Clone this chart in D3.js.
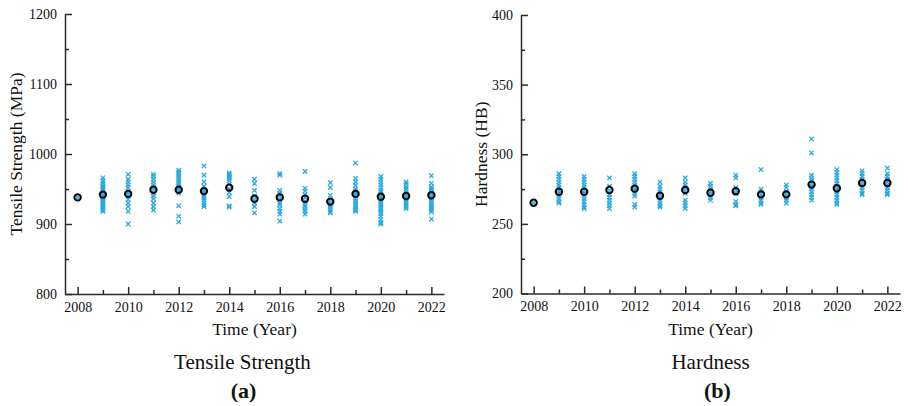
<!DOCTYPE html>
<html>
<head>
<meta charset="utf-8">
<script src="https://cdn.jsdelivr.net/npm/d3@7"></script>
<style>
    body { margin: 0; background: #fff; }
    svg text { font-family: "Liberation Serif", "Times New Roman", serif; fill: #111; }
</style>
</head>
<body>
<svg id="chart" width="908" height="406"></svg>
<script>
// Tensile strength and hardness per year: individual samples (x) and yearly mean (o)

const years = [2008, 2009, 2010, 2011, 2012, 2013, 2014, 2015, 2016, 2017, 2018, 2019, 2020, 2021, 2022];
const yearTicks = [2008, 2010, 2012, 2014, 2016, 2018, 2020, 2022];
const yearMinorTicks = [2009, 2011, 2013, 2015, 2017, 2019, 2021];

const tensileTicks = [800, 900, 1000, 1100, 1200];
const hardnessTicks = [200, 250, 300, 350, 400];

const tensileMeans = [938, 942, 943, 949, 949, 947, 952, 936, 938, 936, 932, 943, 939, 940, 941];
const tensileSamples = [
    [938],
    [966, 962, 959, 956, 953, 950, 948, 946, 944, 942, 940, 938, 936, 934, 932, 930, 928, 926, 923, 920, 918],
    [971, 964, 960, 956, 952, 947, 944, 940, 935, 930, 925, 918, 900],
    [971, 968, 964, 960, 956, 952, 948, 944, 940, 936, 930, 925, 920],
    [977, 974, 971, 968, 965, 962, 959, 956, 953, 950, 947, 944, 926, 911, 903],
    [983, 970, 960, 954, 949, 946, 943, 940, 937, 934, 930, 927, 925],
    [973, 971, 969, 967, 965, 962, 957, 950, 945, 939, 926, 924],
    [964, 958, 948, 940, 935, 930, 925, 916],
    [972, 970, 948, 944, 940, 935, 930, 927, 922, 918, 914, 904],
    [975, 951, 947, 942, 938, 933, 928, 925, 921, 918, 914],
    [959, 952, 941, 934, 930, 927, 924, 921, 918, 916],
    [987, 965, 960, 955, 950, 947, 944, 941, 938, 935, 932, 929, 926, 923, 920, 918],
    [968, 964, 960, 956, 952, 948, 945, 942, 939, 936, 933, 930, 927, 924, 921, 918, 915, 911, 906, 902, 900],
    [960, 957, 953, 950, 946, 943, 940, 937, 934, 931, 928, 925, 922],
    [969, 958, 953, 950, 947, 944, 941, 938, 935, 932, 929, 926, 923, 920, 917, 907]
];

const hardnessMeans = [265.2, 273.1, 273.1, 274.3, 275.3, 270.2, 274.3, 272.4, 273.4, 271.2, 271.2, 278.2, 275.6, 279.4, 279.4];
const hardnessSamples = [
    [265],
    [286, 284, 282, 280, 278, 276, 274, 272, 270, 268, 266, 265],
    [284, 282, 280, 278, 276, 274, 272, 270, 268, 266, 264, 262, 261],
    [283, 277, 274, 271, 269, 267, 265, 263, 261],
    [286, 284, 282, 280, 278, 276, 274, 272, 270, 264, 262],
    [280, 277, 275, 273, 271, 269, 267, 265, 263, 262],
    [283, 280, 278, 276, 274, 272, 267, 265, 263, 261],
    [279, 277, 275, 273, 271, 269, 267],
    [285, 283, 276, 274, 272, 266, 264, 263],
    [289, 275, 273, 271, 269, 267, 265, 264],
    [278, 276, 273, 271, 269, 267, 265],
    [311, 301, 285, 283, 281, 279, 277, 275, 273, 271, 269, 267],
    [289, 287, 285, 283, 281, 279, 277, 275, 273, 271, 269, 267, 265, 264],
    [288, 286, 284, 282, 280, 278, 276, 274, 272, 271],
    [290, 286, 284, 282, 280, 278, 276, 274, 272, 271]
];

const sampleColor = '#27a9e1';
const axisColor = '#2a2a2a';

const svg = d3.select('#chart');

function drawPanel(opt) {
    const x = d3.scaleLinear().domain([2007.5, 2022.5]).range([opt.left, opt.right]);
    const y = d3.scaleLinear().domain(d3.extent(opt.yTicks)).range([opt.bottom, opt.top]);
    const g = svg.append('g');

    const yMinor = d3.pairs(opt.yTicks).map(([a, b]) => (a + b) / 2);

    // minor ticks first, major axis on top
    g.append('g')
        .attr('transform', `translate(${opt.left},0)`)
        .call(d3.axisLeft(y).tickValues(yMinor).tickFormat('').tickSize(-4))
        .call(s => s.select('.domain').remove());

    g.append('g')
        .attr('transform', `translate(0,${opt.bottom})`)
        .call(d3.axisBottom(x).tickValues(yearMinorTicks).tickFormat('').tickSize(-4))
        .call(s => s.select('.domain').remove());

    g.append('g')
        .attr('transform', `translate(${opt.left},0)`)
        .call(d3.axisLeft(y).tickValues(opt.yTicks).tickFormat(d3.format('d')).tickSize(-7).tickSizeOuter(0).tickPadding(8));

    g.append('g')
        .attr('transform', `translate(0,${opt.bottom})`)
        .call(d3.axisBottom(x).tickValues(yearTicks).tickFormat(d3.format('d')).tickSize(-7).tickSizeOuter(0).tickPadding(8));

    g.selectAll('.domain, .tick line')
        .attr('stroke', axisColor)
        .attr('stroke-width', 1.5);
    g.selectAll('.tick text')
        .attr('font-size', 14)
        .attr('fill', '#111')
        .style('font-family', '"Liberation Serif", serif');

    // samples as small crosses
    const pts = [];
    opt.samples.forEach((vals, i) => vals.forEach(v => pts.push({ year: years[i], v })));
    const s = 2.2;
    g.append('g')
        .selectAll('path')
        .data(pts)
        .join('path')
        .attr('d', d => {
            const cx = x(d.year), cy = y(d.v);
            return `M${cx - s},${cy - s}L${cx + s},${cy + s}M${cx - s},${cy + s}L${cx + s},${cy - s}`;
        })
        .attr('stroke', sampleColor)
        .attr('stroke-width', 1.3)
        .attr('fill', 'none');

    // yearly mean
    g.append('g')
        .selectAll('circle')
        .data(opt.means)
        .join('circle')
        .attr('cx', (d, i) => x(years[i]))
        .attr('cy', d => y(d))
        .attr('r', 3.2)
        .attr('fill', 'none')
        .attr('stroke', '#000')
        .attr('stroke-width', 2);

    const mid = (opt.left + opt.right) / 2;
    g.append('text')
        .attr('x', mid)
        .attr('y', 335)
        .attr('text-anchor', 'middle')
        .attr('font-size', 17.5)
        .text('Time (Year)');

    g.append('text')
        .attr('transform', `translate(${opt.yTitleX},${(opt.top + opt.bottom) / 2}) rotate(-90)`)
        .attr('text-anchor', 'middle')
        .attr('font-size', 17.5)
        .text(opt.yTitle);

    g.append('text')
        .attr('x', mid + opt.titleShift)
        .attr('y', 369)
        .attr('text-anchor', 'middle')
        .attr('font-size', 21)
        .text(opt.title);

    g.append('text')
        .attr('x', mid + opt.tagShift)
        .attr('y', 398)
        .attr('text-anchor', 'middle')
        .attr('font-size', 22)
        .attr('font-weight', 'bold')
        .text(opt.tag);
}

drawPanel({
    left: 65, right: 444, top: 14, bottom: 294,
    yTicks: tensileTicks,
    samples: tensileSamples,
    means: tensileMeans,
    yTitle: 'Tensile Strength (MPa)',
    yTitleX: 22,
    title: 'Tensile Strength',
    titleShift: -12,
    tag: '(a)',
    tagShift: -11
});

drawPanel({
    left: 521, right: 900, top: 15, bottom: 293.5,
    yTicks: hardnessTicks,
    samples: hardnessSamples,
    means: hardnessMeans,
    yTitle: 'Hardness (HB)',
    yTitleX: 487,
    title: 'Hardness',
    titleShift: 0,
    tag: '(b)',
    tagShift: 7
});
</script>
</body>
</html>
